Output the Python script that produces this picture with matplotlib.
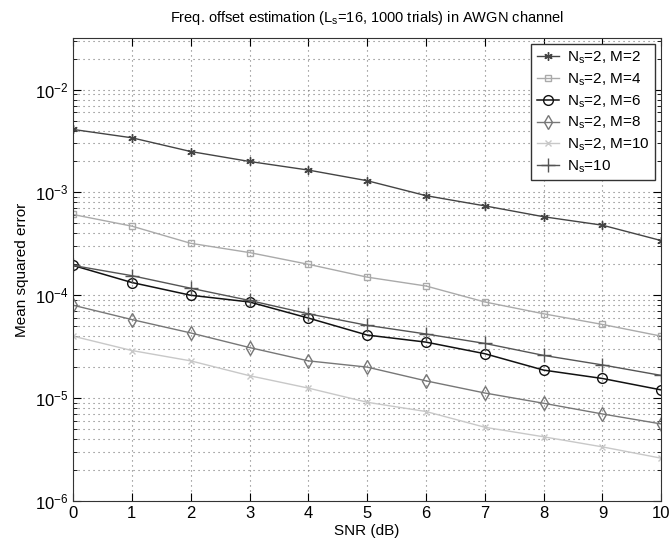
import numpy as np
import matplotlib.pyplot as plt

plt.rcParams['font.family'] = ['Liberation Sans', 'DejaVu Sans']
plt.rcParams['mathtext.fontset'] = 'custom'
plt.rcParams['mathtext.rm'] = 'Liberation Sans'
plt.rcParams['mathtext.it'] = 'Liberation Sans'

snr = np.arange(0, 11)
mse_m2 = [4.1e-3, 3.4e-3, 2.5e-3, 2.0e-3, 1.65e-3, 1.3e-3, 9.3e-4, 7.4e-4, 5.8e-4, 4.8e-4, 3.4e-4]
mse_m4 = [6.1e-4, 4.7e-4, 3.2e-4, 2.6e-4, 2.0e-4, 1.5e-4, 1.23e-4, 8.6e-5, 6.6e-5, 5.2e-5, 4.0e-5]
mse_m6 = [1.95e-4, 1.33e-4, 1.0e-4, 8.6e-5, 6.0e-5, 4.1e-5, 3.5e-5, 2.7e-5, 1.87e-5, 1.55e-5, 1.2e-5]
mse_m8 = [8.0e-5, 5.8e-5, 4.3e-5, 3.1e-5, 2.3e-5, 2.0e-5, 1.47e-5, 1.12e-5, 8.9e-6, 7.0e-6, 5.6e-6]
mse_m10 = [4.0e-5, 2.9e-5, 2.3e-5, 1.65e-5, 1.25e-5, 9.1e-6, 7.4e-6, 5.2e-6, 4.2e-6, 3.35e-6, 2.6e-6]
mse_ns10 = [1.95e-4, 1.55e-4, 1.17e-4, 8.9e-5, 6.6e-5, 5.1e-5, 4.2e-5, 3.4e-5, 2.6e-5, 2.1e-5, 1.66e-5]

fig = plt.figure(figsize=(6.7, 5.38), dpi=100)
ax = fig.add_axes([0.109, 0.069, 0.878, 0.86])

ax.semilogy(snr, mse_m2, color='#444444', marker=(6, 2, 0), ms=6, lw=1, label=r'N$_\mathregular{s}$=2, M=2')
ax.semilogy(snr, mse_m4, color='#aaaaaa', marker='s', mfc='none', ms=5, lw=1, label=r'N$_\mathregular{s}$=2, M=4')
ax.semilogy(snr, mse_m6, color='#111111', marker='o', mfc='none', ms=7, lw=1.1, label=r'N$_\mathregular{s}$=2, M=6')
ax.semilogy(snr, mse_m8, color='#777777', marker='d', mfc='none', ms=7, lw=1, label=r'N$_\mathregular{s}$=2, M=8')
ax.semilogy(snr, mse_m10, color='#c8c8c8', marker='x', ms=5, lw=1, label=r'N$_\mathregular{s}$=2, M=10')
ax.semilogy(snr, mse_ns10, color='#555555', marker='+', ms=10, lw=1, label=r'N$_\mathregular{s}$=10')

ax.set_xlim(0, 10)
ax.set_ylim(1e-6, 10 ** -1.5)
ax.set_xticks(snr)
ax.grid(True, which='major', axis='x', linestyle=(0, (1, 3.5)), color='#777777', lw=0.8)
ax.grid(True, which='both', axis='y', linestyle=(0, (1, 3.5)), color='#777777', lw=0.8)
ax.tick_params(direction='in', which='both', top=True, right=True, labelsize=12)
ax.tick_params(which='major', length=6)
ax.tick_params(which='minor', length=3)
for s in ax.spines.values():
    s.set_color('#333333')

ax.set_xlabel('SNR (dB)', fontsize=11, labelpad=2)
ax.set_ylabel('Mean squared error', fontsize=11)
ax.set_title(r'Freq. offset estimation (L$_\mathregular{s}$=16, 1000 trials) in AWGN channel', fontsize=10.5, pad=12)

leg = ax.legend(loc='upper right', fontsize=11, fancybox=False, framealpha=1, edgecolor='#333333',
                handlelength=1.5, handletextpad=0.5, borderaxespad=0.4, labelspacing=0.35, borderpad=0.35)
leg.get_frame().set_linewidth(1)

fig.savefig('out.png', dpi=100)
